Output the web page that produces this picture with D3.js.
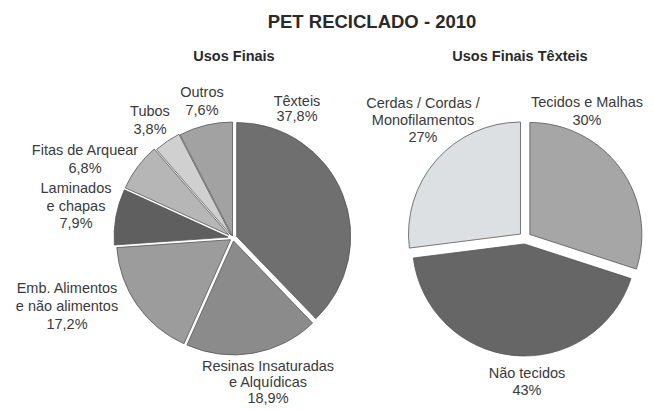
<!DOCTYPE html>
<html>
<head>
<meta charset="utf-8">
<script src="https://cdn.jsdelivr.net/npm/d3@7"></script>
<style>
  html, body { margin: 0; padding: 0; background: #fff; }
  svg { display: block; }
  text { font-family: "Liberation Sans", Arial, sans-serif; }
</style>
</head>
<body>
<svg id="chart" width="654" height="410"></svg>
<script>
// ---------- DATA ----------
const chartTitle = "PET RECICLADO - 2010";

const usosFinaisTitle = "Usos Finais";
const usosFinaisCategories = ["Têxteis", "Resinas Insaturadas e Alquídicas", "Emb. Alimentos e não alimentos", "Laminados e chapas", "Fitas de Arquear", "Tubos", "Outros"];
const usosFinaisLabelLines = [["Têxteis"], ["Resinas Insaturadas", "e Alquídicas"], ["Emb. Alimentos", "e não alimentos"], ["Laminados", "e chapas"], ["Fitas de Arquear"], ["Tubos"], ["Outros"]];
const usosFinaisValues = [37.8, 18.9, 17.2, 7.9, 6.8, 3.8, 7.6];

const texteisTitle = "Usos Finais Têxteis";
const texteisCategories = ["Tecidos e Malhas", "Não tecidos", "Cerdas / Cordas / Monofilamentos"];
const texteisLabelLines = [["Tecidos e Malhas"], ["Não tecidos"], ["Cerdas / Cordas /", "Monofilamentos"]];
const texteisValues = [30, 43, 27];

// ---------- STYLE / LAYOUT ----------
const usosFinaisColors = ["#6f6f6f", "#8b8b8b", "#9c9c9c", "#5f5f5f", "#b6b6b6", "#d0d0d0", "#a2a2a2"];
const usosFinaisExplode = [4, 3, 3, 5, 5, 3, 2];
const usosFinaisLabelPos = [[297, 106, 15], [268, 371, 16], [67, 293, 18], [76, 193, 17.5], [85, 155, 18], [150, 116, 18], [202, 97, 18]];

const texteisColors = ["#a6a6a6", "#666666", "#dde0e3"];
const texteisExplode = [6, 6, 6];
const texteisLabelPos = [[587, 107, 18], [527, 378, 17], [423, 108, 17]];

const ptBR = d3.formatLocale({ decimal: ",", thousands: ".", grouping: [3], currency: ["R$", ""] });
const fmt1 = ptBR.format(".1f");
const fmt0 = ptBR.format(".0f");

const svg = d3.select("#chart");

svg.append("text")
  .attr("x", 372).attr("y", 28)
  .attr("text-anchor", "middle")
  .attr("font-size", 18.5).attr("font-weight", "bold")
  .attr("fill", "#2a2a2a")
  .text(chartTitle);

function drawPie(opts) {
  const g = svg.append("g").attr("transform", `translate(${opts.cx},${opts.cy})`);
  const pie = d3.pie().sort(null).value(d => d.value);
  const arc = d3.arc().innerRadius(0).outerRadius(opts.r);
  const data = opts.values.map((v, i) => ({ value: v, i }));
  const arcs = pie(data);

  g.selectAll("path.slice")
    .data(arcs)
    .join("path")
    .attr("class", "slice")
    .attr("d", arc)
    .attr("transform", d => {
      const mid = (d.startAngle + d.endAngle) / 2;
      const e = opts.explode[d.data.i];
      return `translate(${e * Math.sin(mid)},${-e * Math.cos(mid)})`;
    })
    .attr("fill", d => opts.colors[d.data.i])
    .attr("stroke", "#555")
    .attr("stroke-width", 0.8)
    .attr("stroke-linejoin", "round");

  svg.append("text")
    .attr("x", opts.titleX).attr("y", 61)
    .attr("text-anchor", "middle")
    .attr("font-size", 14.5).attr("font-weight", "bold")
    .attr("fill", "#2a2a2a")
    .text(opts.title);

  const labels = svg.append("g");
  arcs.forEach(d => {
    const i = d.data.i;
    const [lx, ly, lh] = opts.labelPos[i];
    const lines = opts.lines[i].concat([opts.fmt(d.data.value) + "%"]);
    const t = labels.append("text")
      .attr("text-anchor", "middle")
      .attr("font-size", 14.5)
      .attr("fill", "#3a3a3a");
    lines.forEach((ln, k) => {
      t.append("tspan").attr("x", lx).attr("y", ly + k * lh).text(ln);
    });
  });
}

drawPie({
  cx: 233, cy: 238, r: 114,
  values: usosFinaisValues, colors: usosFinaisColors, explode: usosFinaisExplode,
  lines: usosFinaisLabelLines, labelPos: usosFinaisLabelPos, fmt: fmt1,
  title: usosFinaisTitle, titleX: 234
});

drawPie({
  cx: 525, cy: 238, r: 112,
  values: texteisValues, colors: texteisColors, explode: texteisExplode,
  lines: texteisLabelLines, labelPos: texteisLabelPos, fmt: fmt0,
  title: texteisTitle, titleX: 520
});
</script>
</body>
</html>
